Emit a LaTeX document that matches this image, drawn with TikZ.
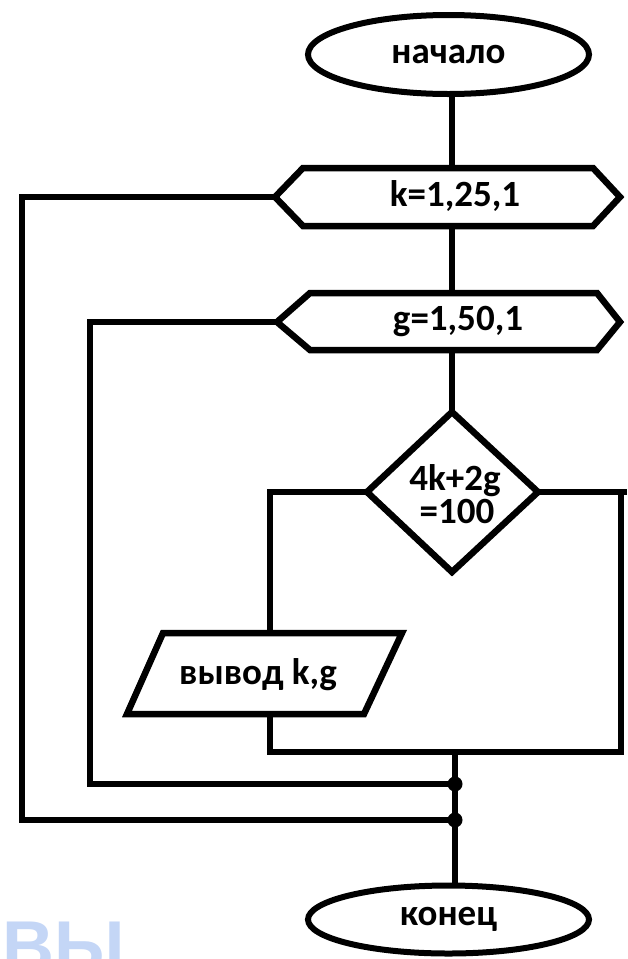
\documentclass[tikz,border=0pt]{standalone}
\usepackage{fontspec}
\setmainfont{Carlito}
\newfontfamily\wmfont{Liberation Sans}
\usetikzlibrary{shapes.geometric}
\definecolor{wmblue}{RGB}{196,214,246}
\begin{document}
\begin{tikzpicture}[x=1pt,y=-1pt,
  wire/.style={line width=6.5pt, line join=miter},
  shapeline/.style={line width=6.5pt, line join=miter},
  lbl/.style={font=\fontsize{37}{40}\selectfont\bfseries, inner sep=0pt},
  term/.style={ellipse, draw, line width=6pt, minimum width=281pt, inner sep=0pt, font=\fontsize{37}{40}\selectfont\bfseries},
  junct/.style={circle, fill, inner sep=0pt, minimum size=15pt}]
\useasboundingbox (0,0) rectangle (627,959);

% terminals
\node[term, minimum height=79pt] (start) at (448.5,54.5) {начало};
\node[term, minimum height=68pt] (end) at (448.5,919.5) {конец};

% loop k hexagon
\coordinate (kW) at (275,197);
\coordinate (kN) at (452,168);
\coordinate (kS) at (452,226);
\draw[shapeline] (kW) -- (303,168) -- (593,168) -- (620,197) -- (593,226) -- (303,226) -- cycle;
\node[lbl] (ktext) at (455,196) {k=1,25,1};

% loop g hexagon
\coordinate (gW) at (277,322);
\coordinate (gN) at (452,293);
\coordinate (gS) at (452,350);
\draw[shapeline] (gW) -- (310,293) -- (597,293) -- (620,322) -- (597,350) -- (310,350) -- cycle;
\node[lbl] (gtext) at (458,321) {g=1,50,1};

% decision diamond
\coordinate (dN) at (452,412);
\coordinate (dW) at (367,492);
\coordinate (dE) at (538,492);
\coordinate (dS) at (452,572);
\draw[shapeline] (dN) -- (dE) -- (dS) -- (dW) -- cycle;
\node[lbl, align=center, font=\fontsize{37}{33}\selectfont\bfseries] (dtext) at (455,494) {4k+2g\\\hspace*{4pt}=100};

% output parallelogram
\coordinate (pN) at (270,633);
\coordinate (pS) at (270,714);
\draw[shapeline] (163,633) -- (402,633) -- (364,714) -- (127,714) -- cycle;
\node[lbl] (ptext) at (258,675) {вывод k,g};

% routing points
\coordinate (bl) at (270,752);
\coordinate (br) at (621,752);
\coordinate (tr) at (621,492);
\coordinate (j1) at (455,752);
\coordinate (j2) at (455,784);
\coordinate (j3) at (455,820);
\coordinate (kL) at (22,197);
\coordinate (kLB) at (22,820);
\coordinate (gL) at (90,322);
\coordinate (gLB) at (90,784);

% connectors
\draw[wire] (kN |- start.south) -- (kN);
\draw[wire] (kS) -- (gN);
\draw[wire] (gS) -- (dN);
\draw[wire] (dW) -- (dW -| pN) -- (pN);
\draw[wire] (pS) -- (bl) -- (br) -- (tr) -- (dE);
\draw[wire] (tr) -- (627,492);
\draw[wire] (j1) -- (j1 |- end.north);
\draw[wire] (kW) -- (kL) -- (kLB) -- (j3);
\draw[wire] (gW) -- (gL) -- (gLB) -- (j2);
\node[junct] (dot1) at (j2) {};
\node[junct] (dot2) at (j3) {};

% watermark fragment
\node[anchor=base west, inner sep=0pt, text=wmblue, font=\wmfont\bfseries\fontsize{72}{72}\selectfont] (wm) at (2,971) {ВЫ};
\end{tikzpicture}
\end{document}
